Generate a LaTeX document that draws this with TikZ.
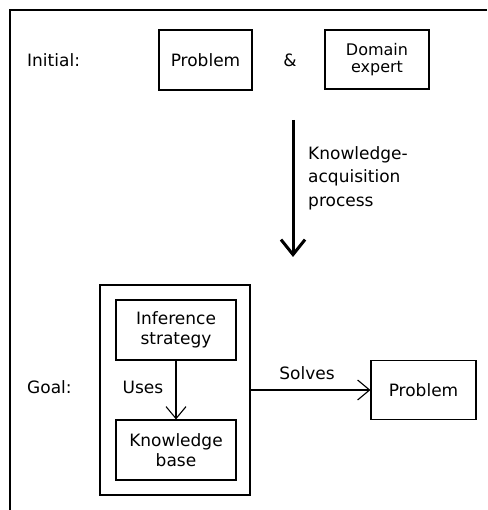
\documentclass[tikz,border=0pt]{standalone}
\usepackage{fontspec}
\setmainfont{DejaVu Sans}
\usetikzlibrary{arrows.meta}
\begin{document}
\begin{tikzpicture}[x=1pt,y=1pt,
  box/.style={draw,line width=1.1pt,minimum width=#1,inner sep=0pt,align=center,font=\fontsize{17}{20}\selectfont},
  lbl/.style={font=\fontsize{17}{23.5}\selectfont,inner sep=0pt},
  conn/.style={line width=1.1pt,-{Straight Barb[length=12pt,width=20pt,line width=1.1pt]}},
  bigconn/.style={line width=3pt,-{Straight Barb[length=15pt,width=24pt,line width=3pt]}}]
\useasboundingbox (0,0) rectangle (487,510);
\coordinate (fc) at (10,500);
\coordinate (fr) at (487,500);
\coordinate (fb) at (10,0);
\draw[line width=1.1pt] (fr) -- (fc) -- (fb);
\node[lbl,anchor=west] (init) at (27,450) {Initial:};
\node[box=93pt,minimum height=60pt] (prob1) at (205.5,450) {Problem};
\node[lbl] (amp) at (290,450) {\&};
\node[box=104pt,minimum height=59pt,font=\fontsize{16}{17.5}\selectfont] (expert) at (377,450.5) {Domain\\expert};
\coordinate (ktop) at (293,390);
\coordinate (kbot) at (293,253);
\draw[bigconn] (ktop) -- (kbot);
\node[lbl,anchor=west,align=left] (kap) at (308,332) {Knowledge-\\acquisition\\process};
\node[box=150pt,minimum height=210pt] (outer) at (175,120) {};
\node[box=120pt,minimum height=60pt,font=\fontsize{17}{20}\selectfont] (inf) at (176,180) {Inference\\strategy};
\node[box=120pt,minimum height=60pt,font=\fontsize{17}{20}\selectfont] (kb) at (176,60) {Knowledge\\base};
\draw[conn] (inf) -- (kb);
\node[lbl] (uses) at (143,123) {Uses};
\node[lbl,anchor=west] (goal) at (27,123) {Goal:};
\node[box=105pt,minimum height=59pt] (prob2) at (423.5,120) {Problem};
\draw[conn] (outer) -- (prob2);
\node[lbl] (solves) at (307,137) {Solves};
\end{tikzpicture}
\end{document}
